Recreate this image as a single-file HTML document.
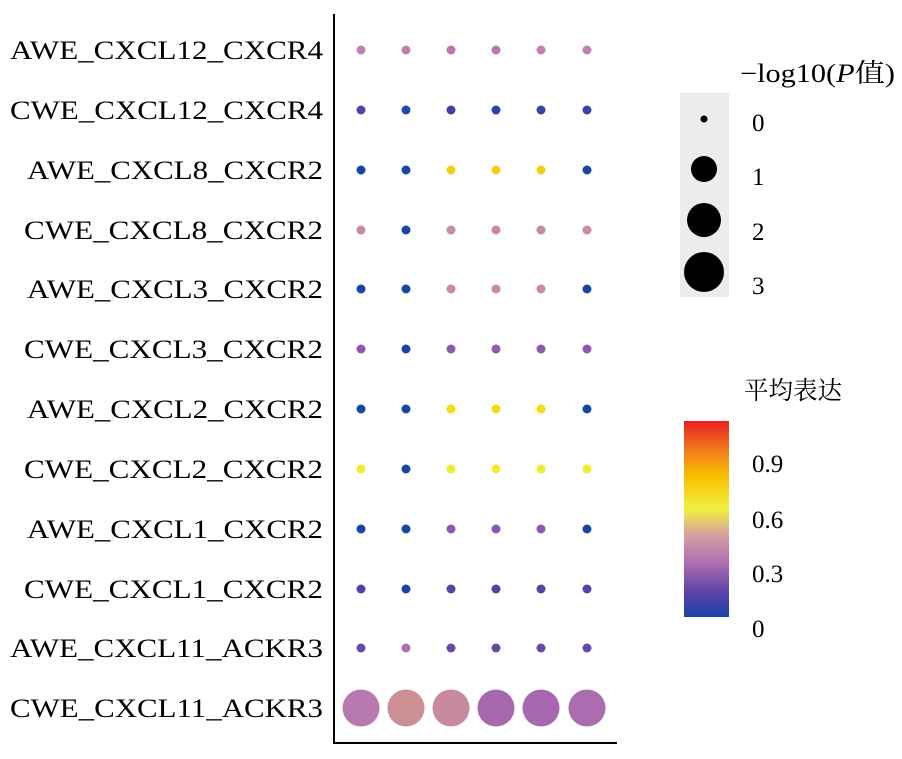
<!DOCTYPE html>
<html><head><meta charset="utf-8"><style>
body{margin:0;background:#fff;}
svg text{font-family:"Liberation Serif","Noto Serif CJK SC",serif;fill:#000;}
</style></head><body>
<svg width="902" height="754" xmlns="http://www.w3.org/2000/svg">
<defs>
<linearGradient id="g" x1="0" y1="1" x2="0" y2="0">
<stop offset="0" stop-color="#1a44a8"/>
<stop offset="0.12" stop-color="#5a40a8"/>
<stop offset="0.28" stop-color="#b070b0"/>
<stop offset="0.42" stop-color="#d8a0a0"/>
<stop offset="0.55" stop-color="#f0f040"/>
<stop offset="0.72" stop-color="#f8c000"/>
<stop offset="0.87" stop-color="#f07020"/>
<stop offset="1" stop-color="#e82020"/>
</linearGradient>
</defs>
<line x1="334" y1="14" x2="334" y2="744" stroke="#000" stroke-width="2"/>
<line x1="333" y1="743" x2="617" y2="743" stroke="#000" stroke-width="2"/>
<g font-size="26" lengthAdjust="spacingAndGlyphs">
<text x="10" y="59" textLength="313" lengthAdjust="spacingAndGlyphs">AWE_CXCL12_CXCR4</text>
<text x="10" y="119" textLength="313" lengthAdjust="spacingAndGlyphs">CWE_CXCL12_CXCR4</text>
<text x="27" y="179" textLength="296" lengthAdjust="spacingAndGlyphs">AWE_CXCL8_CXCR2</text>
<text x="24" y="239" textLength="299" lengthAdjust="spacingAndGlyphs">CWE_CXCL8_CXCR2</text>
<text x="27" y="298" textLength="296" lengthAdjust="spacingAndGlyphs">AWE_CXCL3_CXCR2</text>
<text x="24" y="358" textLength="299" lengthAdjust="spacingAndGlyphs">CWE_CXCL3_CXCR2</text>
<text x="27" y="418" textLength="296" lengthAdjust="spacingAndGlyphs">AWE_CXCL2_CXCR2</text>
<text x="24" y="478" textLength="299" lengthAdjust="spacingAndGlyphs">CWE_CXCL2_CXCR2</text>
<text x="27" y="538" textLength="296" lengthAdjust="spacingAndGlyphs">AWE_CXCL1_CXCR2</text>
<text x="24" y="598" textLength="299" lengthAdjust="spacingAndGlyphs">CWE_CXCL1_CXCR2</text>
<text x="10" y="657" textLength="313" lengthAdjust="spacingAndGlyphs">AWE_CXCL11_ACKR3</text>
<text x="10" y="717" textLength="313" lengthAdjust="spacingAndGlyphs">CWE_CXCL11_ACKR3</text>
</g>
<g>
<g fill="#c080b0"><circle cx="361" cy="50" r="4.5"/><circle cx="406" cy="50" r="4.5"/><circle cx="451" cy="50" r="4.5" fill="#b878b8"/><circle cx="496" cy="50" r="4.5" fill="#b878b8"/><circle cx="541" cy="50" r="4.5"/><circle cx="587" cy="50" r="4.5"/></g>
<g><circle cx="361" cy="110" r="4.5" fill="#5a40a8"/><circle cx="406" cy="110" r="4.5" fill="#2a44a8"/><circle cx="451" cy="110" r="4.5" fill="#4040a8"/><circle cx="496" cy="110" r="4.5" fill="#2a44a8"/><circle cx="541" cy="110" r="4.5" fill="#3a44a8"/><circle cx="587" cy="110" r="4.5" fill="#3a44a8"/></g>
<g><circle cx="361" cy="170" r="4.5" fill="#1a44a8"/><circle cx="406" cy="170" r="4.5" fill="#1a44a8"/><circle cx="451" cy="170" r="4.5" fill="#f8cc10"/><circle cx="496" cy="170" r="4.5" fill="#f8cc10"/><circle cx="541" cy="170" r="4.5" fill="#f8cc10"/><circle cx="587" cy="170" r="4.5" fill="#1a44a8"/></g>
<g fill="#c888a8"><circle cx="361" cy="230" r="4.5"/><circle cx="406" cy="230" r="4.5" fill="#1a44a8"/><circle cx="451" cy="230" r="4.5"/><circle cx="496" cy="230" r="4.5"/><circle cx="541" cy="230" r="4.5"/><circle cx="587" cy="230" r="4.5"/></g>
<g fill="#c888a8"><circle cx="361" cy="289" r="4.5" fill="#1a44a8"/><circle cx="406" cy="289" r="4.5" fill="#1a44a8"/><circle cx="451" cy="289" r="4.5"/><circle cx="496" cy="289" r="4.5"/><circle cx="541" cy="289" r="4.5"/><circle cx="587" cy="289" r="4.5" fill="#1a44a8"/></g>
<g fill="#9058b0"><circle cx="361" cy="349" r="4.5"/><circle cx="406" cy="349" r="4.5" fill="#1a44a8"/><circle cx="451" cy="349" r="4.5"/><circle cx="496" cy="349" r="4.5"/><circle cx="541" cy="349" r="4.5"/><circle cx="587" cy="349" r="4.5"/></g>
<g fill="#f8dc10"><circle cx="361" cy="409" r="4.5" fill="#1a44a8"/><circle cx="406" cy="409" r="4.5" fill="#1a44a8"/><circle cx="451" cy="409" r="4.5"/><circle cx="496" cy="409" r="4.5"/><circle cx="541" cy="409" r="4.5"/><circle cx="587" cy="409" r="4.5" fill="#1a44a8"/></g>
<g fill="#f0ec30"><circle cx="361" cy="469" r="4.5"/><circle cx="406" cy="469" r="4.5" fill="#1a44a8"/><circle cx="451" cy="469" r="4.5"/><circle cx="496" cy="469" r="4.5"/><circle cx="541" cy="469" r="4.5"/><circle cx="587" cy="469" r="4.5"/></g>
<g fill="#9058b0"><circle cx="361" cy="529" r="4.5" fill="#1a44a8"/><circle cx="406" cy="529" r="4.5" fill="#1a44a8"/><circle cx="451" cy="529" r="4.5"/><circle cx="496" cy="529" r="4.5"/><circle cx="541" cy="529" r="4.5"/><circle cx="587" cy="529" r="4.5" fill="#1a44a8"/></g>
<g fill="#5a40a8"><circle cx="361" cy="589" r="4.5"/><circle cx="406" cy="589" r="4.5" fill="#1a44a8"/><circle cx="451" cy="589" r="4.5"/><circle cx="496" cy="589" r="4.5"/><circle cx="541" cy="589" r="4.5"/><circle cx="587" cy="589" r="4.5"/></g>
<g fill="#6848a8"><circle cx="361" cy="648" r="4.5"/><circle cx="406" cy="648" r="4.5" fill="#b070b8"/><circle cx="451" cy="648" r="4.5"/><circle cx="496" cy="648" r="4.5"/><circle cx="541" cy="648" r="4.5"/><circle cx="587" cy="648" r="4.5"/></g>
<g><circle cx="361" cy="708" r="18.5" fill="#b878b0"/><circle cx="406" cy="708" r="18.5" fill="#cc9094"/><circle cx="451" cy="708" r="18.5" fill="#c88aa0"/><circle cx="496" cy="708" r="18.5" fill="#a868b0"/><circle cx="541" cy="708" r="18.5" fill="#a868b0"/><circle cx="587" cy="708" r="18.5" fill="#ac6cb0"/></g>
</g>
<text x="740" y="82" font-size="26" textLength="155" lengthAdjust="spacingAndGlyphs">−log10(<tspan font-style="italic">P</tspan>值)</text>
<rect x="680" y="93" width="49" height="204" fill="#ececec"/>
<circle cx="704" cy="119" r="3.5" fill="#000"/>
<circle cx="704" cy="169" r="13" fill="#000"/>
<circle cx="704" cy="220" r="17" fill="#000"/>
<circle cx="704" cy="272" r="20" fill="#000"/>
<g font-size="25">
<text x="752" y="131">0</text>
<text x="752" y="185">1</text>
<text x="752" y="240">2</text>
<text x="752" y="294">3</text>
</g>
<text x="744" y="399" font-size="25" textLength="98" lengthAdjust="spacingAndGlyphs">平均表达</text>
<rect x="684" y="421" width="45" height="196" fill="url(#g)"/>
<g font-size="25">
<text x="752" y="472">0.9</text>
<text x="752" y="528">0.6</text>
<text x="752" y="582">0.3</text>
<text x="752" y="637">0</text>
</g>
</svg>
</body></html>
